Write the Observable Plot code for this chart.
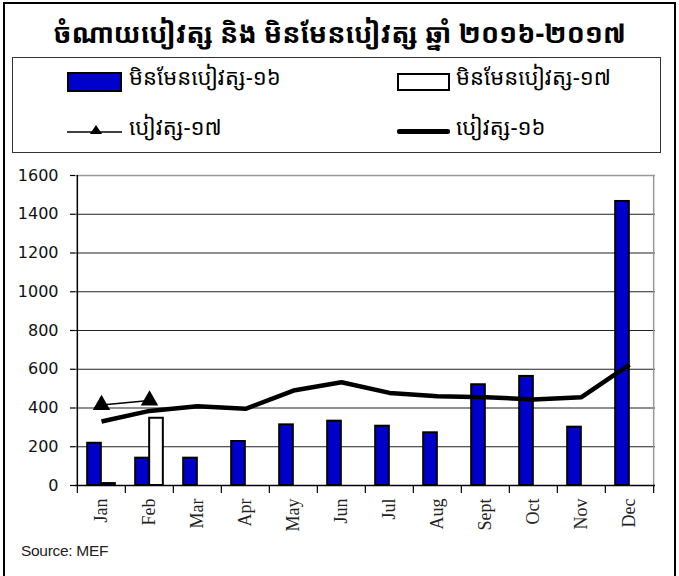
<!DOCTYPE html>
<html><head><meta charset="utf-8">
<script src="https://cdn.jsdelivr.net/npm/d3@7"></script>
<script src="https://cdn.jsdelivr.net/npm/@observablehq/plot@0.6"></script>
<style>
body{margin:0;background:#fff;width:679px;height:576px;overflow:hidden;position:relative;font-family:"Noto Sans Khmer","Khmer OS","Noto Sans",sans-serif;color:#000;}
#frame{position:absolute;left:3px;top:2px;width:669px;height:620px;border:2px solid #000;}
#title{position:absolute;left:0;top:13px;width:679px;text-align:center;font-size:27px;font-weight:bold;line-height:40px;white-space:nowrap;}
#legend{position:absolute;left:12px;top:57px;width:647px;height:94px;border:1.5px solid #333;}
.sw{position:absolute;box-sizing:border-box;}
.lt{position:absolute;font-size:22px;line-height:26px;white-space:nowrap;}
#chart{position:absolute;left:0;top:155px;}
#source{position:absolute;left:21px;top:542px;font-family:"Liberation Sans",sans-serif;font-size:15.5px;letter-spacing:-0.3px;color:#222;}
</style></head>
<body>
<div id="frame"></div>
<div id="title"></div>
<div id="legend"></div>
<div class="sw" style="left:67px;top:72px;width:55px;height:20px;background:#0000cc;border:2px solid #000;"></div>
<div class="lt" id="l1" style="left:129px;top:63px;"></div>
<div class="sw" style="left:397px;top:73px;width:53px;height:18px;background:#fff;border:2px solid #000;"></div>
<div class="lt" id="l2" style="left:456px;top:63px;"></div>
<svg class="sw" style="left:67px;top:120px;" width="56" height="20"><line x1="0" y1="12" x2="55" y2="12" stroke="#000" stroke-width="1.5"/><path d="M29,5 L35,14 L23,14 Z" fill="#000"/></svg>
<div class="lt" id="l3" style="left:129px;top:113px;"></div>
<div class="sw" style="left:397px;top:129px;width:53px;height:4.5px;background:#000;border-radius:2px;"></div>
<div class="lt" id="l4" style="left:456px;top:113px;"></div>
<div id="chart"></div>
<div id="source">Source: MEF</div>
<script>
const titleText = "ចំណាយបៀវត្ស និង មិនមែនបៀវត្ស ឆ្នាំ ២០១៦-២០១៧";
const legendLabels = ["មិនមែនបៀវត្ស-១៦", "មិនមែនបៀវត្ស-១៧", "បៀវត្ស-១៧", "បៀវត្ស-១៦"];
const months = ["Jan","Feb","Mar","Apr","May","Jun","Jul","Aug","Sept","Oct","Nov","Dec"];
const nonSalary16 = [218,141,141,227,313,332,306,272,520,563,301,1466];
const nonSalary17 = [10,347];
const salary16 = [330,385,409,396,490,533,478,461,456,444,456,624];
const salary17 = [416,439];
const yTicks = [0,200,400,600,800,1000,1200,1400,1600];

document.getElementById("title").textContent = titleText;
["l1","l2","l3","l4"].forEach((id,i)=>document.getElementById(id).textContent = legendLabels[i]);

const ns16 = months.map((m,i)=>({month:m, value:nonSalary16[i]}));
const ns17 = nonSalary17.map((v,i)=>({month:months[i], value:v}));
const s16 = months.map((m,i)=>({month:m, value:salary16[i]}));
const s17 = salary17.map((v,i)=>({month:months[i], value:v}));

const W = 679, H = 380, mL = 75, mR = 24, mT = 20, mB = 50;
const bw = (W - mL - mR) / months.length;
const half = bw / 2, barW = 14;

const chart = Plot.plot({
  width: W, height: H,
  marginLeft: mL, marginRight: mR, marginTop: mT, marginBottom: mB,
  x: {type: "band", domain: months, paddingInner: 0, paddingOuter: 0, axis: null},
  y: {domain: [0, 1600], axis: null},
  marks: [
    Plot.ruleY(yTicks.filter(t => t > 0 && t < 1600), {stroke: "#222", strokeWidth: 1.2}),
    Plot.ruleY([1600], {stroke: "#999", strokeWidth: 1.5}),
    Plot.ruleX(["Dec"], {dx: half, stroke: "#999", strokeWidth: 1.5}),
    Plot.barY(ns16, {x: "month", y: "value", fill: "#0000cc", stroke: "#000", strokeWidth: 2,
      insetLeft: half - barW, insetRight: half}),
    Plot.barY(ns17, {x: "month", y: "value", fill: "#fff", stroke: "#000", strokeWidth: 2,
      insetLeft: half, insetRight: half - barW}),
    Plot.ruleY([0], {stroke: "#000", strokeWidth: 1.5}),
    Plot.ruleX(["Jan"], {dx: -half, stroke: "#000", strokeWidth: 1.5}),
    Plot.line(s16, {x: "month", y: "value", stroke: "#000", strokeWidth: 4.5, strokeLinejoin: "round", strokeLinecap: "butt"}),
    Plot.line(s17, {x: "month", y: "value", stroke: "#000", strokeWidth: 1.5}),
    Plot.dot(s17, {x: "month", y: "value", symbol: "triangle", r: 6.5, fill: "#000", stroke: "none"}),
    Plot.axisY({ticks: yTicks, tickSize: 5, tickPadding: 12, fontSize: 16, fontFamily: "DejaVu Sans",
      stroke: "#000", strokeWidth: 1.2, label: null, tickFormat: d => String(d), color: "#111"}),
    Plot.axisX({ticks: months, tickSize: 8, dx: -half, tickFormat: () => "", stroke: "#000", strokeWidth: 1.2, label: null}),
    Plot.axisX({ticks: ["Dec"], tickSize: 8, dx: half, tickFormat: () => "", stroke: "#000", strokeWidth: 1.2, label: null}),
    Plot.axisX({ticks: months, tickSize: 0, tickPadding: 13, tickRotate: -90, fontSize: 18,
      fontFamily: "Liberation Serif", label: null, color: "#222"})
  ]
});
document.getElementById("chart").appendChild(chart);
</script>
</body></html>
